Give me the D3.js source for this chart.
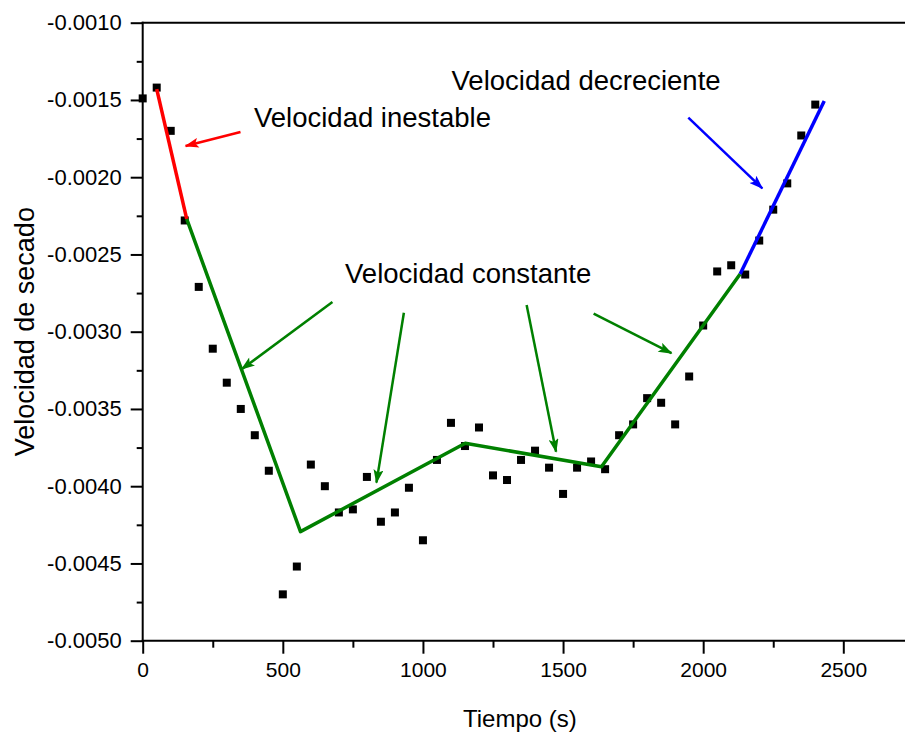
<!DOCTYPE html>
<html>
<head>
<meta charset="utf-8">
<script src="https://cdn.jsdelivr.net/npm/d3@7"></script>
<style>
  html, body { margin: 0; padding: 0; background: #fff; }
  svg { display: block; font-family: "Liberation Sans", Arial, sans-serif; }
</style>
</head>
<body>
<svg id="chart" width="905" height="737"></svg>
<script>
// Drying-rate measurements (time in s, rate)
const tiempo = [0, 50, 100, 150, 200, 250, 300, 350, 400, 450, 500, 550, 600, 650, 700, 750,
  800, 850, 900, 950, 1000, 1050, 1100, 1150, 1200, 1250, 1300, 1350, 1400, 1450, 1500,
  1550, 1600, 1650, 1700, 1750, 1800, 1850, 1900, 1950, 2000, 2050, 2100, 2150, 2200,
  2250, 2300, 2350, 2400];
const velocidad = [-0.00149, -0.00142, -0.00170, -0.00228, -0.00271, -0.00311, -0.00333,
  -0.00350, -0.00367, -0.00390, -0.00470, -0.00452, -0.00386, -0.00400, -0.00417, -0.00415,
  -0.00394, -0.00423, -0.00417, -0.00401, -0.00435, -0.00383, -0.00359, -0.00374, -0.00362,
  -0.00393, -0.00396, -0.00383, -0.00377, -0.00388, -0.00405, -0.00388, -0.00384, -0.00389,
  -0.00367, -0.00360, -0.00343, -0.00346, -0.00360, -0.00329, -0.00296, -0.00261, -0.00257,
  -0.00263, -0.00241, -0.00221, -0.00204, -0.00173, -0.00153];

// Fitted piecewise segments for each drying period
const tramoInestableX = [50, 157];
const tramoInestableY = [-0.00143, -0.00227];
const tramoConstanteX = [157, 563, 1151, 1637, 2132];
const tramoConstanteY = [-0.00227, -0.004294, -0.003722, -0.003874, -0.002626];
const tramoDecrecienteX = [2132, 2432];
const tramoDecrecienteY = [-0.002626, -0.001507];

// Annotation labels and their arrows (data coordinates)
const etiquetas = ["Velocidad inestable", "Velocidad decreciente", "Velocidad constante"];
const etiquetaX = [397, 1102, 722];
const etiquetaY = [-0.001677, -0.001436, -0.002687];
const flechaColor = ["red", "green", "green", "green", "green", "blue"];
const flechaX0 = [349, 677, 932, 1370, 1609, 1947];
const flechaY0 = [-0.001707, -0.002808, -0.002877, -0.002827, -0.002883, -0.001615];
const flechaX1 = [153, 353, 834, 1475, 1887, 2211];
const flechaY1 = [-0.001798, -0.003243, -0.003977, -0.003777, -0.003139, -0.002072];

// Axis ticks
const xTicks = [0, 500, 1000, 1500, 2000, 2500];
const xMinorTicks = [250, 750, 1250, 1750, 2250];
const yTicks = [-0.0050, -0.0045, -0.0040, -0.0035, -0.0030, -0.0025, -0.0020, -0.0015, -0.0010];
const yMinorTicks = [-0.00475, -0.00425, -0.00375, -0.00325, -0.00275, -0.00225, -0.00175, -0.00125];

const colores = { red: "#ff0000", green: "#008000", blue: "#0000ff" };

const svg = d3.select("#chart");
const W = 905;
const plotLeft = 142.7, plotTop = 22.7, plotBottom = 640.7;

const x = d3.scaleLinear().domain([0, 2500]).range([plotLeft, 843.3]);
const y = d3.scaleLinear().domain([-0.0050, -0.0010]).range([plotBottom, plotTop]);

// Arrowhead markers
const defs = svg.append("defs");
Object.entries(colores).forEach(([k, c]) => {
  defs.append("marker")
    .attr("id", "head-" + k)
    .attr("viewBox", "0 0 14 10")
    .attr("refX", 13).attr("refY", 5)
    .attr("markerWidth", 15).attr("markerHeight", 10)
    .attr("markerUnits", "userSpaceOnUse")
    .attr("orient", "auto")
    .append("path")
    .attr("d", "M0,0 L14,5 L0,10 L3,5 Z")
    .attr("fill", c);
});

// X axis
const gx = svg.append("g").attr("transform", `translate(0,${plotBottom})`);
gx.call(d3.axisBottom(x).tickValues(xTicks).tickSize(13).tickFormat(d3.format("d")));
gx.select(".domain").remove();
gx.selectAll(".tick line").attr("stroke", "#000").attr("stroke-width", 2);
gx.selectAll(".tick text").attr("font-size", 21).attr("fill", "#000")
  .attr("font-family", "'Liberation Sans', Arial, sans-serif").attr("y", 21).attr("dy", "0.71em");
const gxm = svg.append("g").attr("transform", `translate(0,${plotBottom})`);
gxm.call(d3.axisBottom(x).tickValues(xMinorTicks).tickSize(7).tickFormat(""));
gxm.select(".domain").remove();
gxm.selectAll(".tick line").attr("stroke", "#000").attr("stroke-width", 2);

// Y axis
const gy = svg.append("g").attr("transform", `translate(${plotLeft},0)`);
gy.call(d3.axisLeft(y).tickValues(yTicks).tickSize(12).tickFormat(d => d.toFixed(4)));
gy.select(".domain").remove();
gy.selectAll(".tick line").attr("stroke", "#000").attr("stroke-width", 2);
gy.selectAll(".tick text").attr("font-size", 22).attr("fill", "#000")
  .attr("font-family", "'Liberation Sans', Arial, sans-serif").attr("x", -21);
const gym = svg.append("g").attr("transform", `translate(${plotLeft},0)`);
gym.call(d3.axisLeft(y).tickValues(yMinorTicks).tickSize(6).tickFormat(""));
gym.select(".domain").remove();
gym.selectAll(".tick line").attr("stroke", "#000").attr("stroke-width", 2);

// Frame lines: left, bottom and top
svg.append("line").attr("x1", plotLeft).attr("x2", plotLeft).attr("y1", plotTop - 1).attr("y2", plotBottom + 1)
  .attr("stroke", "#000").attr("stroke-width", 2);
svg.append("line").attr("x1", plotLeft - 1).attr("x2", W).attr("y1", plotBottom).attr("y2", plotBottom)
  .attr("stroke", "#000").attr("stroke-width", 2);
svg.append("line").attr("x1", plotLeft - 1).attr("x2", W).attr("y1", plotTop).attr("y2", plotTop)
  .attr("stroke", "#000").attr("stroke-width", 2);

// Axis titles
svg.append("text").attr("x", (plotLeft + 905) / 2 - 4).attr("y", 727)
  .attr("text-anchor", "middle").attr("font-size", 24).text("Tiempo (s)");
svg.append("text").attr("transform", `translate(34,${(plotTop + plotBottom) / 2}) rotate(-90)`)
  .attr("text-anchor", "middle").attr("font-size", 27).text("Velocidad de secado");

// Data points
svg.append("g").selectAll("rect").data(tiempo).join("rect")
  .attr("x", (d, i) => x(d) - 4).attr("y", (d, i) => y(velocidad[i]) - 4)
  .attr("width", 8).attr("height", 8).attr("fill", "#000");

// Fitted segments
const linea = d3.line().x(d => x(d[0])).y(d => y(d[1]));
const tramos = [
  [tramoConstanteX, tramoConstanteY, colores.green],
  [tramoInestableX, tramoInestableY, colores.red],
  [tramoDecrecienteX, tramoDecrecienteY, colores.blue]
];
tramos.forEach(([xs, ys, c]) => {
  svg.append("path").datum(xs.map((v, i) => [v, ys[i]]))
    .attr("d", linea).attr("fill", "none").attr("stroke", c)
    .attr("stroke-width", 3.5).attr("stroke-linejoin", "round");
});

// Arrows
flechaColor.forEach((c, i) => {
  svg.append("line")
    .attr("x1", x(flechaX0[i])).attr("y1", y(flechaY0[i]))
    .attr("x2", x(flechaX1[i])).attr("y2", y(flechaY1[i]))
    .attr("stroke", colores[c]).attr("stroke-width", 2.5)
    .attr("marker-end", `url(#head-${c})`);
});

// Labels
etiquetas.forEach((t, i) => {
  svg.append("text").attr("x", x(etiquetaX[i])).attr("y", y(etiquetaY[i]))
    .attr("font-size", 27.5).attr("fill", "#000").text(t);
});
</script>
</body>
</html>
